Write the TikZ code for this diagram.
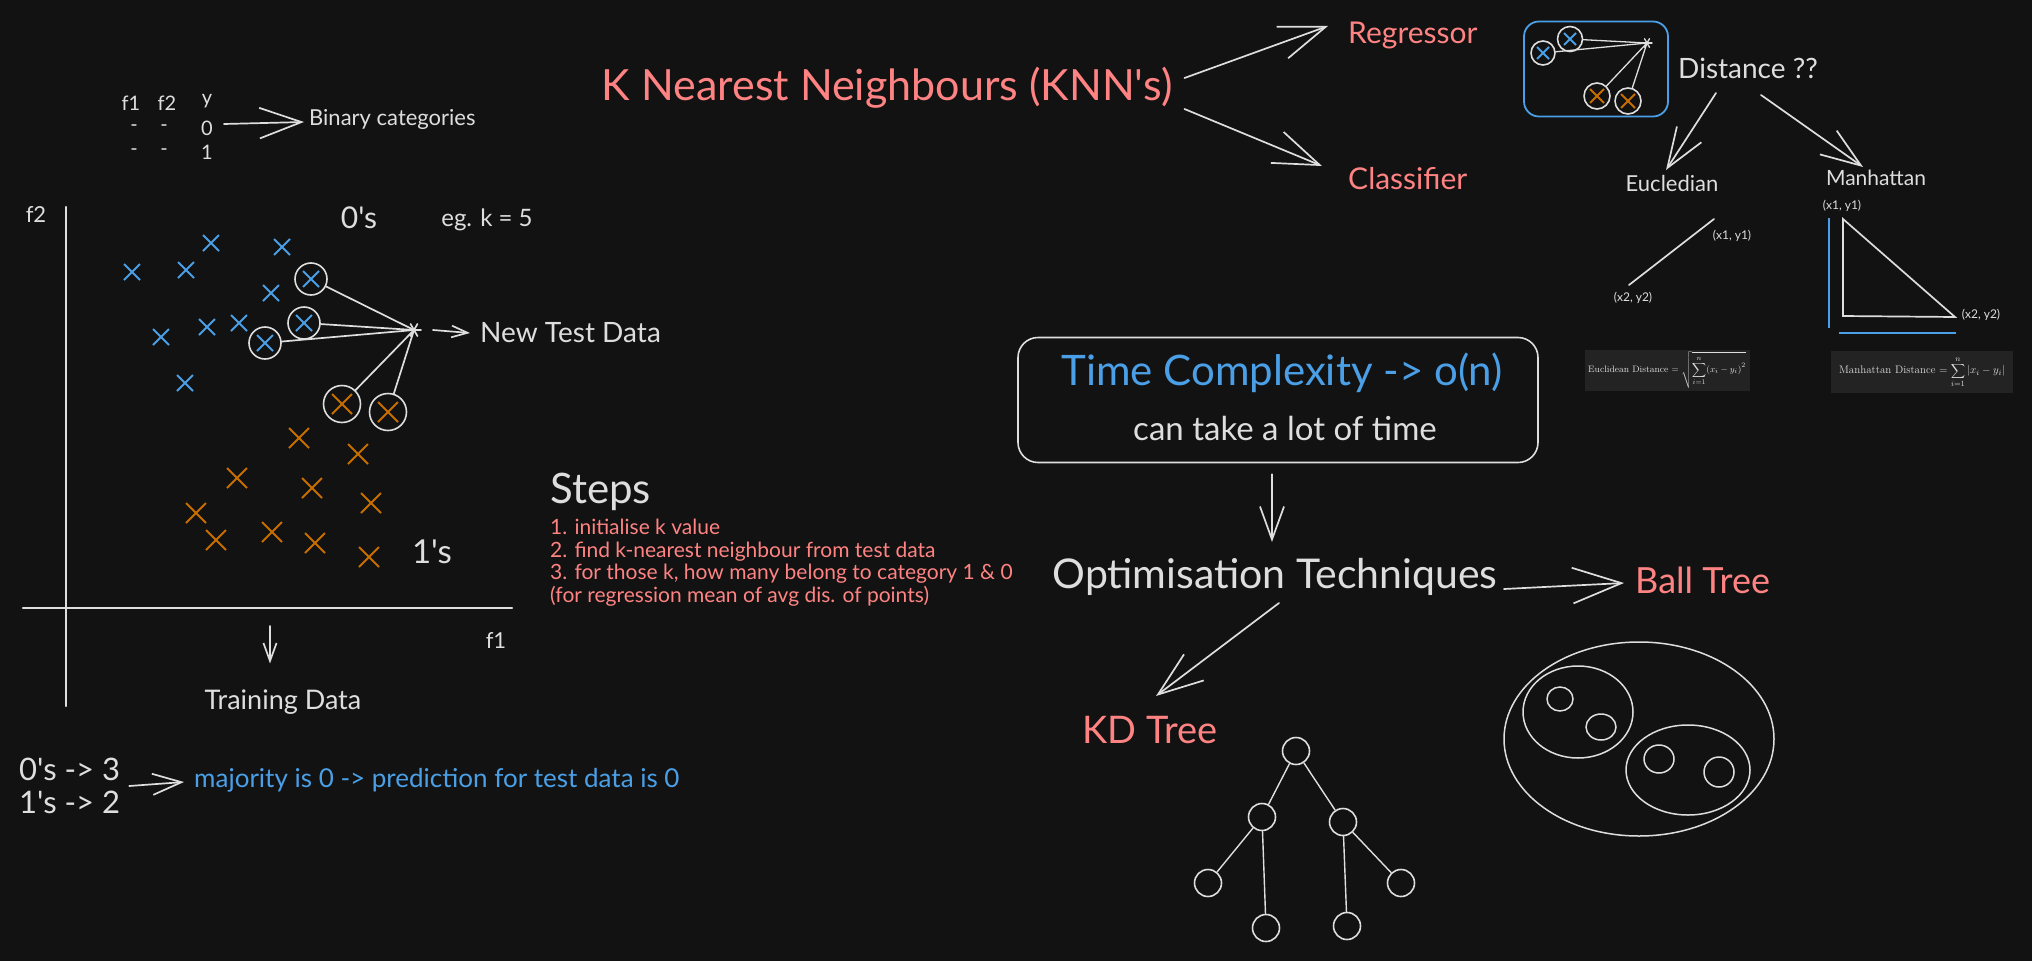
\documentclass[tikz,border=0pt]{standalone}
\usepackage{fontspec}
\newfontfamily\sketchfont{Lato}
\usetikzlibrary{arrows.meta}

\definecolor{bgdark}{HTML}{121212}
\definecolor{chalk}{HTML}{DEDEDE}
\definecolor{knnred}{HTML}{FF8383}
\definecolor{knnblue}{HTML}{4A9FE6}
\definecolor{knnorange}{HTML}{C86E00}
\definecolor{formulabg}{HTML}{232323}

\tikzset{
  txt/.style={font=\sketchfont\fontsize{#1}{#1}\selectfont, text=chalk, inner sep=0pt},
  redtxt/.style={txt=#1, text=knnred},
  bluetxt/.style={txt=#1, text=knnblue},
  sketch/.style={draw=chalk, line width=1.7pt, line cap=round},
  barb/.style={sketch, -{Straight Barb[length=#1, angle'=40]}},
  ring/.style={circle, draw=chalk, line width=1.6pt, minimum size=#1, inner sep=0pt},
  zerox/.style={draw=knnblue, line width=1.8pt},
  onex/.style={draw=knnorange, line width=1.8pt},
}

\begin{document}
\begin{tikzpicture}[x=1pt, y=-1pt]
    \useasboundingbox (0,0) rectangle (2032,961);
    \fill[bgdark] (0,0) rectangle (2032,961);

    % Data table
    \node[txt=20] (f1h) at (131,103) {f1};
    \node[txt=20] (f2h) at (167,103) {f2};
    \node[txt=20] (yh) at (207,101) {y};
    \node[txt=20] (dash11) at (134,128) {-};
    \node[txt=20] (dash12) at (164,128) {-};
    \node[txt=20] (y0) at (207,128) {0};
    \node[txt=20] (dash21) at (134,152) {-};
    \node[txt=20] (dash22) at (164,152) {-};
    \node[txt=20] (y1) at (207,152) {1};
    \node[txt=22, anchor=west] (binary) at (309,119) {Binary categories};
    \draw[barb=42pt] ([shift={(11,-4)}]y0.east) -- ([shift={(-5,3)}]binary.west);

    % Axes
    \draw[sketch, line width=2.2pt] (66,207) -- (66,706);
    \draw[sketch, line width=2.2pt] (23,608) -- (512,608);
    \node[txt=22] (f2lab) at (36,215) {f2};
    \node[txt=22] (f1lab) at (496,640) {f1};
    \node[txt=30] (zeros) at (359,218) {0's};
    \node[txt=24] (kval) at (487,220) {eg. k = 5};
    \node[txt=33] (ones) at (432,552) {1's};

    % Points of class 0 and class 1
    \foreach \px/\py in {211/243, 282/247, 132/272, 186/270, 311/279, 271/293, 304/323, 239/323, 207/327, 161/337, 265/343, 185/383}
        \draw[zerox] (\px-8,\py-8) -- (\px+8,\py+8) (\px-8,\py+8) -- (\px+8,\py-8);
    \foreach \px/\py in {342/404, 388/412, 299/438, 358/454, 237/478, 312/488, 371/503, 196/513, 216/540, 272/532, 315/543, 369/557}
        \draw[onex] (\px-10,\py-10) -- (\px+10,\py+10) (\px-10,\py+10) -- (\px+10,\py-10);

    % Nearest neighbours of the test point
    \node[ring=32] (near1) at (311,279) {};
    \node[ring=32] (near2) at (304,323) {};
    \node[ring=32] (near3) at (265,343) {};
    \node[ring=37] (near4) at (342,404) {};
    \node[ring=37] (near5) at (388,412) {};
    \coordinate (testpt) at (414,330);
    \foreach \a in {0,60,120} \draw[sketch] (testpt) +(\a:7) -- +(\a+180:7);
    \foreach \n in {1,...,5} \draw[sketch] (near\n) -- (testpt);
    \node[txt=28, anchor=west] (newtest) at (480,333) {New Test Data};
    \draw[barb=16pt] ([xshift=19pt]testpt) -- ([xshift=-10pt]newtest.west);

    \node[txt=27] (training) at (283,702) {Training Data};
    \coordinate (plotfoot) at (270,626);
    \coordinate (trainingtop) at ([yshift=26pt]training.north);
    \draw[barb=18pt] (plotfoot) -- (trainingtop -| plotfoot);

    % Steps
    \node[txt=42, anchor=west] (steps) at (550,492) {Steps};
    \node[redtxt=21, anchor=north west, align=left, font=\sketchfont\fontsize{21}{22.5}\selectfont] (steplist) at (550,519)
        {1. initialise k value\\2. find k-nearest neighbour from test data\\3. for those k, how many belong to category 1 \& 0\\(for regression mean of avg dis. of points)};

    % Majority vote
    \node[txt=31, anchor=west, align=left, font=\sketchfont\fontsize{31}{33}\selectfont] (counts) at (19,786) {0's -> 3\\1's -> 2};
    \node[bluetxt=26, anchor=west] (majority) at (194,780) {majority is 0 -> prediction for test data is 0};
    \draw[barb=29pt] ([xshift=9pt]counts.east) -- ([shift={(-10,2)}]majority.west);

    % KNN title
    \node[redtxt=43] (knn) at (887,88) {K Nearest Neighbours (KNN's)};
    \node[redtxt=30, anchor=west] (regressor) at (1348,35) {Regressor};
    \node[redtxt=30, anchor=west] (classifier) at (1348,179) {Classifier};
    \draw[barb=46pt] ([shift={(12,-10)}]knn.east) -- ([shift={(-20,-9)}]regressor.west);
    \draw[barb=46pt] ([shift={(12,21)}]knn.east) -- ([shift={(-26,-13)}]classifier.west);

    % Distance sketch
    \node[draw=knnblue, line width=1.8pt, rounded corners=15pt, minimum width=144, minimum height=95] (minibox) at (1596,69) {};
    \foreach \px/\py in {1570/39, 1543/53}
        \draw[zerox] (\px-6,\py-6) -- (\px+6,\py+6) (\px-6,\py+6) -- (\px+6,\py-6);
    \foreach \px/\py in {1597/96, 1628/101}
        \draw[onex] (\px-7,\py-7) -- (\px+7,\py+7) (\px-7,\py+7) -- (\px+7,\py-7);
    \node[ring=25] (mini1) at (1570,39) {};
    \node[ring=24] (mini2) at (1543,53) {};
    \node[ring=26] (mini3) at (1597,96) {};
    \node[ring=26] (mini4) at (1628,101) {};
    \coordinate (ministar) at (1647,43);
    \foreach \a in {0,60,120} \draw[sketch, line width=1.3pt] (ministar) +(\a:5) -- +(\a+180:5);
    \foreach \n in {1,...,4} \draw[sketch, line width=1.3pt] (mini\n) -- (ministar);

    \node[txt=28] (distance) at (1748,68) {Distance ??};
    \node[txt=22] (eucl) at (1672,183) {Eucledian};
    \node[txt=21] (manh) at (1876,178) {Manhattan};
    \draw[barb=40pt] ([shift={(-32,25)}]distance.center) -- ([shift={(-6,-13)}]eucl.center);
    \draw[barb=40pt] ([shift={(13,27)}]distance.center) -- ([shift={(-13,-11)}]manh.center);

    \coordinate (ea) at (1714,219);
    \coordinate (eb) at (1629,285);
    \draw[sketch] (ea) -- (eb);
    \node[txt=12] (eal) at (1732,236) {(x1, y1)};
    \node[txt=12] (ebl) at (1633,298) {(x2, y2)};

    \coordinate (ma) at (1843,219);
    \coordinate (mc) at (1843,316);
    \coordinate (mb) at (1955,317);
    \draw[sketch] (ma) -- (mc) -- (mb) -- cycle;
    \draw[knnblue, line width=2pt] (1829,218) -- (1829,328);
    \draw[knnblue, line width=2pt] (1839,333) -- (1956,333);
    \node[txt=12] (mal) at (1842,206) {(x1, y1)};
    \node[txt=12] (mbl) at (1981,315) {(x2, y2)};

    % Formulas
    \node[fill=formulabg, text=chalk, minimum width=165, minimum height=41, inner sep=0pt, font=\fontsize{9.3}{10}\selectfont] (eucform) at (1667,370)
        {Euclidean Distance $=\sqrt{\displaystyle\sum_{i=1}^{n}(x_i-y_i)^2}$};
    \node[fill=formulabg, text=chalk, minimum width=182, minimum height=42, inner sep=0pt, font=\fontsize{11}{12}\selectfont] (manform) at (1922,372)
        {Manhattan Distance $=\displaystyle\sum_{i=1}^{n}|x_i-y_i|$};

    % Time complexity
    \node[draw=chalk, line width=1.6pt, rounded corners=20pt, minimum width=520, minimum height=125] (tcbox) at (1278,400) {};
    \node[bluetxt=42] (tctitle) at (1282,373) {Time Complexity -> o(n)};
    \node[txt=33] (tcnote) at (1285,428) {can take a lot of time};
    \node[txt=41] (optim) at (1275,577) {Optimisation Techniques};
    \draw[barb=33pt] ([shift={(-6,11)}]tcbox.south) -- ([shift={(-3,-35)}]optim.center);

    \node[redtxt=36, anchor=west] (balltree) at (1635,580) {Ball Tree};
    \node[redtxt=38] (kdtree) at (1150,730) {KD Tree};
    \draw[barb=49pt] ([shift={(229,12)}]optim.center) -- ([shift={(-11,3)}]balltree.west);
    \draw[barb=45pt] ([shift={(4,26)}]optim.center) -- ([shift={(6,-34)}]kdtree.center);

    % KD tree
    \node[ring=27] (kdroot) at (1296,751) {};
    \node[ring=27] (kdl) at (1262,817) {};
    \node[ring=27] (kdr) at (1343,822) {};
    \node[ring=27] (kdll) at (1208,883) {};
    \node[ring=27] (kdlm) at (1266,928) {};
    \node[ring=27] (kdrm) at (1347,926) {};
    \node[ring=27] (kdrr) at (1401,883) {};
    \draw[sketch, line width=1.4pt] (kdroot) -- (kdl) (kdroot) -- (kdr) (kdl) -- (kdll) (kdl) -- (kdlm) (kdr) -- (kdrm) (kdr) -- (kdrr);

    % Ball tree
    \draw[sketch, line width=1.5pt] (1639,739) ellipse [x radius=135, y radius=97];
    \draw[sketch, line width=1.5pt] (1578,712) ellipse [x radius=55, y radius=46];
    \draw[sketch, line width=1.5pt] (1688,770) ellipse [x radius=62, y radius=45];
    \draw[sketch, line width=1.5pt] (1560,699) ellipse [x radius=13, y radius=12];
    \draw[sketch, line width=1.5pt] (1601,727) ellipse [x radius=15, y radius=13];
    \draw[sketch, line width=1.5pt] (1659,759) ellipse [x radius=15, y radius=14];
    \draw[sketch, line width=1.5pt] (1719,772) ellipse [x radius=15, y radius=15];
\end{tikzpicture}
\end{document}
